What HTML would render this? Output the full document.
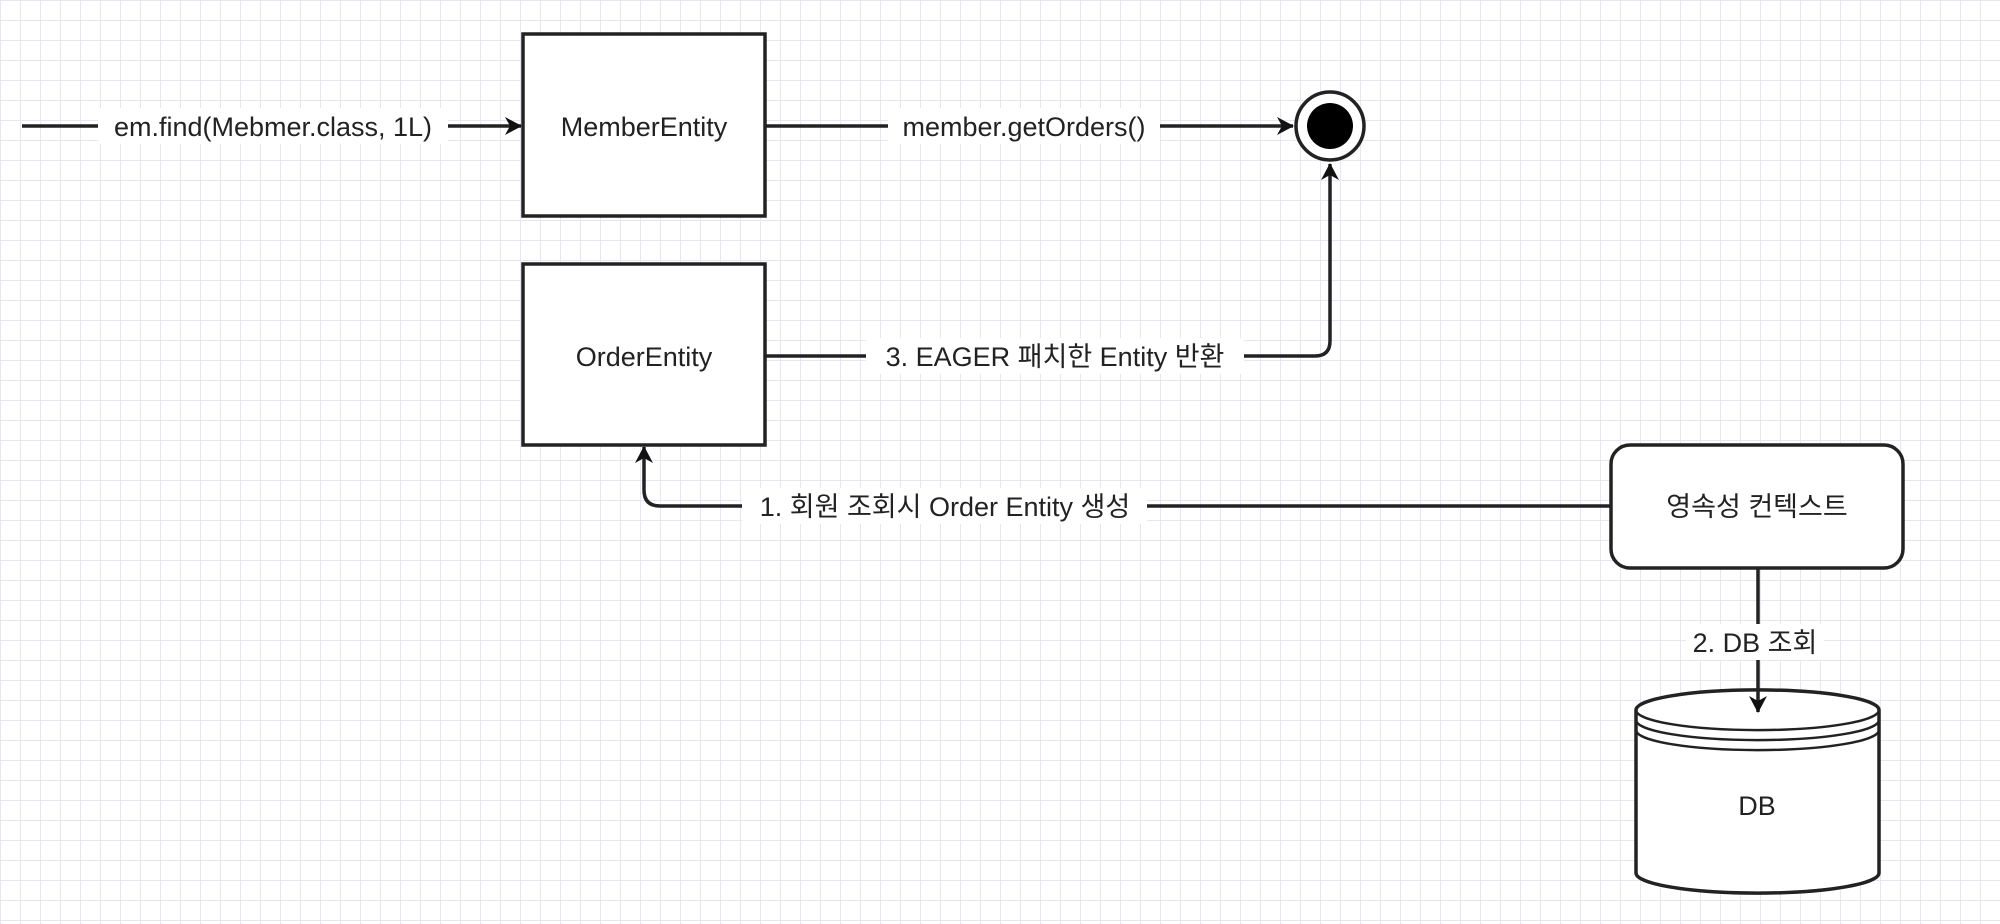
<!DOCTYPE html>
<html><head><meta charset="utf-8"><style>
html,body{margin:0;padding:0;}
body{width:2000px;height:924px;overflow:hidden;background:#fff;
background-image:linear-gradient(#e6e6f6 1px,transparent 1px),linear-gradient(90deg,#e6e6f6 1px,transparent 1px);
background-size:20px 20px;}
</style></head><body>
<svg width="2000" height="924" style="position:absolute;left:0;top:0" font-family="'Liberation Sans','Noto Sans CJK KR',sans-serif" font-size="27">
<defs>
<marker id="b" markerWidth="18" markerHeight="18" refX="16" refY="9" orient="auto" markerUnits="userSpaceOnUse"><path d="M0,0 L17,9 L0,18 L5,9 Z" fill="#111"/></marker></defs>
<g stroke="#222" stroke-width="3.5" fill="none">
<line x1="22" y1="126" x2="521" y2="126" marker-end="url(#b)"/>
<line x1="765" y1="126" x2="1293" y2="126" marker-end="url(#b)"/>
<path d="M765,356 H1315 Q1330,356 1330,341 V164" marker-end="url(#b)"/>
<path d="M1611,506 H660 Q644,506 644,490 V447" marker-end="url(#b)"/>
<rect x="523" y="34" width="242" height="182" fill="#fff"/>
<rect x="523" y="264" width="242" height="181" fill="#fff"/>
<rect x="1611" y="445" width="292" height="123" rx="19" fill="#fff"/>
<path d="M1636,710 V873 A121,20 0 0 0 1879,873 V710 A121,20 0 0 0 1636,710 Z" fill="#fff"/>
<path d="M1636,710 A121,20 0 0 0 1879,710 M1636,720 A121,20 0 0 0 1879,720 M1636,730 A121,20 0 0 0 1879,730" stroke-width="2.5"/>
<line x1="1758" y1="568" x2="1758" y2="712" marker-end="url(#b)"/>
</g>
<circle cx="1330" cy="126" r="34" fill="#fff" stroke="#222" stroke-width="3.5"/>
<circle cx="1330" cy="126" r="23" fill="#000"/>
<g fill="#222" text-anchor="middle">
<rect x="98" y="108" width="350" height="36" fill="#fff"/>
<text x="273" y="136">em.find(Mebmer.class, 1L)</text>
<rect x="888" y="108" width="272" height="36" fill="#fff"/>
<text x="1024" y="136">member.getOrders()</text>
<rect x="866" y="338" width="378" height="36" fill="#fff"/>
<text x="1055" y="366">3. EAGER 패치한 Entity 반환</text>
<rect x="742" y="488" width="405" height="36" fill="#fff"/>
<text x="945" y="516">1. 회원 조회시 Order Entity 생성</text>
<rect x="1686" y="624" width="138" height="36" fill="#fff"/>
<text x="1755" y="652">2. DB 조회</text>
<text x="644" y="136">MemberEntity</text>
<text x="644" y="366">OrderEntity</text>
<text x="1757" y="516">영속성 컨텍스트</text>
<text x="1757" y="815">DB</text>
</g>
</svg>
</body></html>
